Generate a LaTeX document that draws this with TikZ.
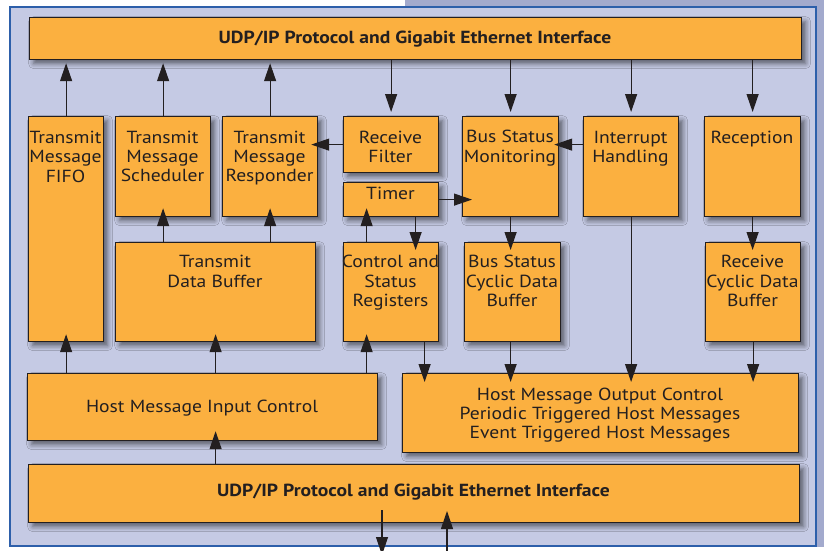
\documentclass[tikz,border=0pt]{standalone}
\usepackage{fontspec}
\setmainfont{PT Sans}[FakeStretch=1.12]
\usetikzlibrary{arrows.meta,shadows.blur}
\definecolor{boxfill}{RGB}{251,176,64}
\definecolor{lav}{RGB}{197,202,228}
\definecolor{outerc}{RGB}{163,170,205}
\definecolor{framec}{RGB}{45,95,170}
\definecolor{linec}{RGB}{35,31,32}
\begin{document}
\begin{tikzpicture}[x=1pt,y=-1pt,
  box/.style={draw=linec, line width=1.2pt, fill=boxfill, rectangle, inner sep=0pt, anchor=north west,
    blur shadow={shadow xshift=4pt, shadow yshift=-4pt, shadow blur radius=5pt, shadow opacity=55}},
  txt/.style={align=center, inner sep=0pt, anchor=north, text=linec, font=\fontsize{17.5}{19.4}\selectfont},
  ttl/.style={txt, font=\fontsize{17.5}{19.4}\selectfont\bfseries},
  arr/.style={draw=linec, line width=1.2pt, -{Triangle[length=18pt,width=12pt]}}]
\useasboundingbox (0,0) rectangle (824,550);
\clip (0,0) rectangle (824,550);
\fill[white] (0,0) rectangle (824,550);
\fill[outerc] (405,0) rectangle (824,547);
\draw[draw=framec, line width=2pt, fill=lav] (10,7) rectangle (816,546);
% boxes
\node[box, minimum width=772pt, minimum height=42pt] (topudp) at (29,17) {};
\node[box, minimum width=75pt, minimum height=225pt] (fifo) at (28,116) {};
\node[box, minimum width=95pt, minimum height=100pt] (sched) at (115,116) {};
\node[box, minimum width=95pt, minimum height=100pt] (resp) at (222,116) {};
\node[box, minimum width=95pt, minimum height=56pt] (rf) at (343,116) {};
\node[box, minimum width=95pt, minimum height=34pt] (timer) at (343,182) {};
\node[box, minimum width=96pt, minimum height=100pt] (bsm) at (462,116) {};
\node[box, minimum width=95pt, minimum height=100pt] (intr) at (583,116) {};
\node[box, minimum width=96pt, minimum height=100pt] (recp) at (704,116) {};
\node[box, minimum width=200pt, minimum height=99pt] (dbuf) at (115,242) {};
\node[box, minimum width=95pt, minimum height=99pt] (csr) at (343,242) {};
\node[box, minimum width=96pt, minimum height=99pt] (bsc) at (464,242) {};
\node[box, minimum width=95pt, minimum height=99pt] (rcd) at (705,242) {};
\node[box, minimum width=350pt, minimum height=67pt] (hin) at (27,373) {};
\node[box, minimum width=396pt, minimum height=79pt] (hout) at (402,373) {};
\node[box, minimum width=771pt, minimum height=58pt] (botudp) at (28,464) {};
% texts (north = first baseline - 13.58)
\node[ttl] (topudp-t) at (415,29.7) {\strut UDP/IP Protocol and Gigabit Ethernet Interface};
\node[txt] (fifo-t) at (65.5,129.7) {\strut Transmit\\Message\\FIFO};
\node[txt] (sched-t) at (162.5,129.4) {\strut Transmit\\Message\\Scheduler};
\node[txt] (resp-t) at (269.5,129.4) {\strut Transmit\\Message\\Responder};
\node[txt] (rf-t) at (390.5,129.4) {\strut Receive\\Filter};
\node[txt] (timer-t) at (390.5,185.7) {\strut Timer};
\node[txt] (bsm-t) at (510,129.1) {\strut Bus Status\\Monitoring};
\node[txt] (intr-t) at (630.5,129.4) {\strut Interrupt\\Handling};
\node[txt] (recp-t) at (752,129.4) {\strut Reception};
\node[txt] (dbuf-t) at (215,254.1) {\strut Transmit\\Data Buffer};
\node[txt] (csr-t) at (390.5,253.9) {\strut Control and\\Status\\Registers};
\node[txt] (bsc-t) at (512,253.9) {\strut Bus Status\\Cyclic Data\\Buffer};
\node[txt] (rcd-t) at (752.5,253.9) {\strut Receive\\Cyclic Data\\Buffer};
\node[txt] (hin-t) at (202,399.1) {\strut Host Message Input Control};
\node[txt] (hout-t) at (600,386.4) {\strut Host Message Output Control\\Periodic Triggered Host Messages\\Event Triggered Host Messages};
\node[ttl] (botudp-t) at (413.5,482.4) {\strut UDP/IP Protocol and Gigabit Ethernet Interface};
% arrows to/from top interface
\draw[arr, shorten >=3pt] (fifo.north) -- (fifo.north |- topudp.south);
\draw[arr, shorten >=3pt] (sched.north) -- (sched.north |- topudp.south);
\draw[arr, shorten >=3pt] (resp.north) -- (resp.north |- topudp.south);
\draw[arr, shorten >=4pt] (rf.north |- topudp.south) -- (rf.north);
\draw[arr, shorten >=4pt] (bsm.north |- topudp.south) -- (bsm.north);
\draw[arr, shorten >=4pt] (intr.north |- topudp.south) -- (intr.north);
\draw[arr, shorten >=4pt] (recp.north |- topudp.south) -- (recp.north);
% horizontal arrows
\draw[arr, shorten >=-7pt] (rf.west) -- (rf.west -| resp.east);
\draw[arr, shorten >=-5pt] ([yshift=22pt]intr.west) -- ([yshift=22pt]intr.west -| bsm.east);
\draw[arr, shorten >=-10pt] (timer.east) -- (timer.east -| bsm.west);
% middle vertical arrows
\draw[arr, shorten >=-8pt] ([xshift=24.5pt]timer.south) -- ([xshift=24.5pt]csr.north);
\draw[arr, shorten >=-9pt] ([xshift=-24.5pt]csr.north) -- ([xshift=-24.5pt]timer.south);
\draw[arr, shorten >=-9pt] (dbuf.north -| sched.south) -- (sched.south);
\draw[arr, shorten >=-9pt] (dbuf.north -| resp.south) -- (resp.south);
\draw[arr, shorten >=-8pt] (bsm.south) -- (bsm.south |- bsc.north);
\draw[arr, shorten >=-8pt] (recp.south) -- (recp.south |- rcd.north);
% host input
\draw[arr, shorten >=-8pt] (hin.north -| fifo.south) -- (fifo.south);
\draw[arr, shorten >=-8pt] (hin.north -| dbuf.south) -- (dbuf.south);
\draw[arr, shorten >=-8pt] ([xshift=-24.5pt]csr.south |- hin.north) -- ([xshift=-24.5pt]csr.south);
% host output
\draw[arr, shorten >=-9pt] ([xshift=33.5pt]csr.south) -- ([xshift=33.5pt]csr.south |- hout.north);
\draw[arr, shorten >=-9pt] ([xshift=-2pt]bsc.south) -- ([xshift=-2pt]bsc.south |- hout.north);
\draw[arr, shorten >=-9pt] (intr.south) -- (intr.south |- hout.north);
\draw[arr, shorten >=-9pt] (rcd.south) -- (rcd.south |- hout.north);
% bottom interface
\draw[arr, shorten >=-10pt] (botudp.north -| dbuf.south) -- (hin.south -| dbuf.south);
\coordinate (outS) at (382,510);
\coordinate (outE) at (382,555);
\coordinate (inS) at (447,560);
\coordinate (inE) at (447,511);
\draw[arr] (outS) -- (outE);
\draw[arr] (inS) -- (inE);
\end{tikzpicture}
\end{document}
